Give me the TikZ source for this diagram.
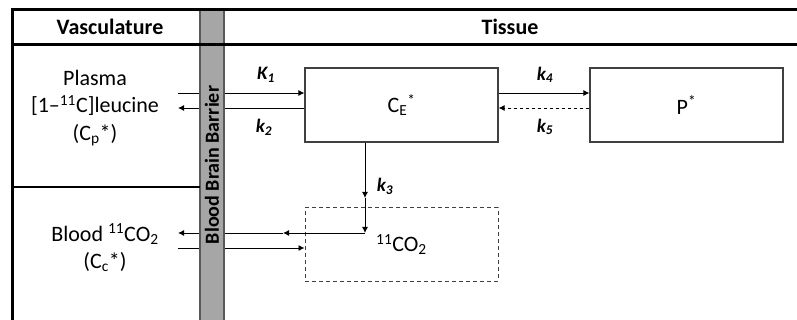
\documentclass[tikz,border=0pt]{standalone}
\usepackage{fontspec}
\setmainfont{Carlito}
\usetikzlibrary{arrows.meta, positioning}
\definecolor{barriergray}{HTML}{A6A6A6}
\definecolor{barrierline}{HTML}{595959}
\definecolor{boxline}{HTML}{404040}

\begin{document}
\begin{tikzpicture}[x=1pt, y=-1pt, font=\fontsize{22}{27.5}\selectfont,
  comp/.style={draw=boxline, line width=1.2pt, minimum width=193pt, minimum height=74pt, inner sep=0pt},
  flow/.style={line width=0.9pt, -{Latex[length=6pt,width=6pt]}},
  rate/.style={font=\fontsize{19}{20}\selectfont\bfseries\itshape},
  head/.style={font=\fontsize{22}{24}\selectfont\bfseries}]
\useasboundingbox (0,0) rectangle (797,320);

% Tissue compartments
\node[comp] (ce) at (401.5,105) {C\textsubscript{E}\textsuperscript{*}};
\node[comp] (p) at (686.5,105) {P\textsuperscript{*}};
\node[comp, line width=1pt, dash pattern=on 4pt off 3pt, minimum height=73pt] (co2) at (401.5,244.5) {\raisebox{-5pt}{\textsuperscript{11}CO\textsubscript{2}}};

% Vasculature pools
\node[align=center] (plasma) at (95,108) {Plasma\\{}[1--\textsuperscript{11}C]leucine\\(C\textsubscript{p}*)};
\node[align=center] (blood) at (105,248) {Blood \textsuperscript{11}CO\textsubscript{2}\\(C\textsubscript{c}*)};

% Exchange across the barrier
\coordinate (k1beg) at (178,93);
\coordinate (k2end) at (178,108);
\draw[flow] (k1beg) -- (ce.west |- k1beg);
\draw[flow] (ce.west |- k2end) -- (k2end);
\node[rate] (k1) at (266,75) {K\textsubscript{1}};
\node[rate] (k2) at (264,127) {k\textsubscript{2}};

% Exchange with P*
\draw[flow] (ce.east |- k1beg) -- (p.west |- k1beg);
\draw[flow, dashed] (p.west |- k2end) -- (ce.east |- k2end);
\node[rate] (k4) at (545,75) {k\textsubscript{4}};
\node[rate] (k5) at (545,127) {k\textsubscript{5}};

% Decarboxylation and CO2 washout
\coordinate (k3mid) at (365,198);
\coordinate (k3end) at (365,233);
\coordinate (outmid) at (283,233);
\coordinate (outend) at (178,233);
\coordinate (inbeg) at (178,248);
\draw[flow] (ce.south -| k3end) -- (k3mid);
\draw[flow] (k3mid) -- (k3end);
\draw[flow] (k3end) -- (outmid);
\draw[flow] (outmid) -- (outend);
\draw[flow] (inbeg) -- (co2.west |- inbeg);
\node[rate] (k3) at (385,186) {k\textsubscript{3}};

% Blood brain barrier
\fill[barriergray] (200,11) rectangle (224,320);
\draw[barrierline, line width=1.2pt] (200,11) -- (200,320) (224,11) -- (224,320);
\node[rotate=90, font=\fontsize{20}{22}\selectfont\bfseries] (bbb) at (212,165) {Blood Brain Barrier};

% Frame and header
\draw[line width=3pt] (12,320) -- (12,10) -- (797,10);
\draw[line width=3pt] (12,45) -- (797,45);
\draw[line width=2pt] (12,187) -- (200,187);
\node[head] (vasc) at (110,27) {Vasculature};
\node[head] (tissue) at (510,27) {Tissue};
\end{tikzpicture}
\end{document}
